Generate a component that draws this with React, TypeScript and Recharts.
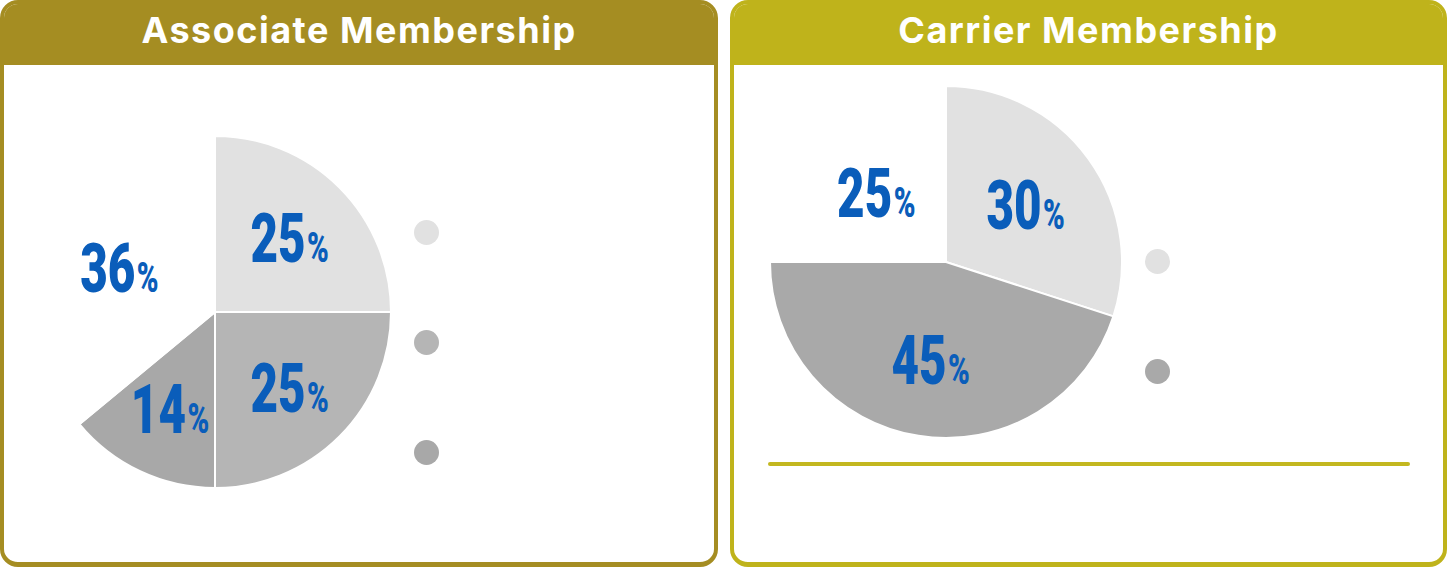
import React from 'react';
import { PieChart, Pie, Cell, Legend } from 'recharts';

const associateNames = ['Associate Tier A', 'Associate Tier B', 'Associate Tier C', 'Associate Other'];
const associateValues = [25, 25, 14, 36];
const associateColors = ['#E1E1E1', '#B5B5B5', '#A8A8A8', 'transparent'];

const carrierNames = ['Carrier Tier A', 'Carrier Tier B', 'Carrier Other'];
const carrierValues = [30, 45, 25];
const carrierColors = ['#E1E1E1', '#A9A9A9', 'transparent'];

const titles = ['Associate Membership', 'Carrier Membership'];
const panelColors = ['#A58D22', '#BFB31B'];

const LABEL_COLOR = '#0A5DBA';
const RAD = Math.PI / 180;

const makeLabel = (factor: number) => (props: any) => {
  const { cx, cy, midAngle, outerRadius, value } = props;
  const r = outerRadius * factor;
  const x = cx + r * Math.cos(-midAngle * RAD);
  const y = cy + r * Math.sin(-midAngle * RAD);
  return (
    <text
      transform={`translate(${x},${y + 25}) scale(0.7,1)`}
      textAnchor="middle"
      fill={LABEL_COLOR}
      fontFamily="Roboto, 'DejaVu Sans', sans-serif"
      fontWeight={900}
    >
      <tspan fontSize={68}>{value}</tspan>
      <tspan fontSize={42} dx={2}>%</tspan>
    </text>
  );
};

const makeLegend = (names: string[], colors: string[]) => (props: any) => {
  const payload: any[] = props && props.payload && props.payload.length ? props.payload : names.map((n) => ({ value: n }));
  const items = payload
    .map((p) => ({ name: p.value, color: colors[names.indexOf(p.value)] }))
    .filter((it) => it.color && it.color !== 'transparent');
  return (
    <div style={{ display: 'flex', flexDirection: 'column' }}>
      {items.map((it) => (
        <div key={it.name} style={{ height: 110 }}>
          <div style={{ width: 25, height: 25, borderRadius: '50%', background: it.color }} />
        </div>
      ))}
    </div>
  );
};

const Panel = ({ left, width, color, title }: { left: number; width: number; color: string; title: string }) => (
  <div
    style={{
      position: 'absolute',
      left,
      top: 0,
      width,
      height: 567,
      boxSizing: 'border-box',
      border: `4px solid ${color}`,
      borderBottomWidth: 5,
      borderRadius: 18,
      overflow: 'hidden',
      background: '#fff',
    }}
  >
    <div
      style={{
        height: 61,
        background: color,
        color: '#fff',
        fontFamily: "Inter, 'Open Sans', sans-serif",
        fontWeight: 700,
        fontSize: 36,
        lineHeight: '53px',
        textAlign: 'center',
        letterSpacing: 1.5,
      }}
    >
      {title}
    </div>
  </div>
);

export default function App() {
  const associateData = associateNames.map((name, i) => ({ name, value: associateValues[i] }));
  const carrierData = carrierNames.map((name, i) => ({ name, value: carrierValues[i] }));
  return (
    <div style={{ position: 'absolute', left: 0, top: 0, width: 1447, height: 567, background: '#fff', overflow: 'hidden' }}>
      <Panel left={0} width={718} color={panelColors[0]} title={titles[0]} />
      <Panel left={730} width={717} color={panelColors[1]} title={titles[1]} />

      <div style={{ position: 'absolute', left: 0, top: 0 }}>
        <PieChart width={718} height={567} margin={{ top: 0, right: 0, bottom: 0, left: 0 }}>
          <Pie
            data={associateData}
            dataKey="value"
            nameKey="name"
            cx={215}
            cy={312}
            outerRadius={176}
            startAngle={90}
            endAngle={-270}
            stroke="#fff"
            strokeWidth={2}
            label={makeLabel(0.6)}
            labelLine={false}
            isAnimationActive={false}
          >
            {associateData.map((d, i) => (
              <Cell key={d.name} fill={associateColors[i]} />
            ))}
          </Pie>
          <Legend
            layout="vertical"
            wrapperStyle={{ left: 414, top: 220, width: 60 }}
            content={makeLegend(associateNames, associateColors)}
          />
        </PieChart>
      </div>

      <div style={{ position: 'absolute', left: 730, top: 0 }}>
        <PieChart width={717} height={567} margin={{ top: 0, right: 0, bottom: 0, left: 0 }}>
          <Pie
            data={carrierData}
            dataKey="value"
            nameKey="name"
            cx={216}
            cy={262}
            outerRadius={176}
            startAngle={90}
            endAngle={-270}
            stroke="#fff"
            strokeWidth={2}
            label={makeLabel(0.56)}
            labelLine={false}
            isAnimationActive={false}
          >
            {carrierData.map((d, i) => (
              <Cell key={d.name} fill={carrierColors[i]} />
            ))}
          </Pie>
          <Legend
            layout="vertical"
            wrapperStyle={{ left: 415, top: 249, width: 60 }}
            content={makeLegend(carrierNames, carrierColors)}
          />
        </PieChart>
      </div>

      <div
        style={{
          position: 'absolute',
          left: 768,
          top: 462,
          width: 642,
          height: 4,
          borderRadius: 2,
          background: '#C3B720',
        }}
      />
    </div>
  );
}
